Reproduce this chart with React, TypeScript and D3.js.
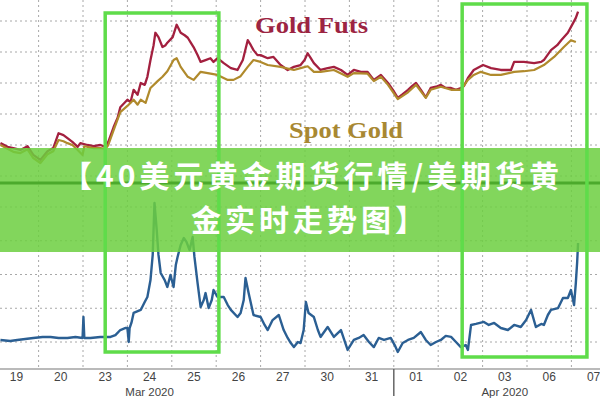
import React from "react";
import * as d3 from "d3";

// ---- data ----
const dayLabels = ["19", "20", "23", "24", "25", "26", "27", "30", "31", "01", "02", "03", "06", "07"];
const monthLabels: [string, number][] = [["Mar 2020", 3], ["Apr 2020", 11]];
const monthBreakDay = 8.5;

// [trading-day index, price]
const goldFuts: [number, number][] = [
  [-0.36, 1553], [-0.2, 1547], [-0.07, 1545], [0.09, 1542], [0.25, 1548], [0.38, 1534], [0.54, 1526], [0.7, 1540],
  [0.83, 1545], [0.95, 1569], [1.06, 1566], [1.15, 1561], [1.26, 1555], [1.38, 1547], [1.44, 1553], [1.6, 1550],
  [1.74, 1548], [1.89, 1550], [2.01, 1547], [2.07, 1555], [2.19, 1579], [2.28, 1594], [2.34, 1611], [2.5, 1623],
  [2.57, 1619], [2.64, 1639], [2.73, 1631], [2.8, 1650], [2.89, 1647], [2.95, 1660], [3.02, 1687], [3.09, 1711],
  [3.13, 1731], [3.2, 1724], [3.29, 1708], [3.36, 1711], [3.4, 1715], [3.52, 1724], [3.61, 1744], [3.7, 1731],
  [3.79, 1727], [3.86, 1723], [3.92, 1716], [3.99, 1708], [4.08, 1695], [4.15, 1684], [4.26, 1687], [4.37, 1690],
  [4.44, 1684], [4.53, 1690], [4.67, 1682], [4.83, 1674], [4.98, 1671], [5.1, 1687], [5.21, 1719], [5.28, 1711],
  [5.34, 1703], [5.43, 1695], [5.5, 1695], [5.66, 1690], [5.79, 1692], [5.95, 1679], [6.11, 1671], [6.25, 1676],
  [6.4, 1679], [6.49, 1687], [6.56, 1698], [6.63, 1690], [6.7, 1682], [6.85, 1671], [7.01, 1674], [7.15, 1676],
  [7.31, 1671], [7.46, 1663], [7.6, 1671], [7.76, 1668], [7.91, 1668], [8.05, 1655], [8.21, 1663], [8.37, 1650],
  [8.48, 1639], [8.59, 1626], [8.7, 1632], [8.82, 1639], [8.91, 1645], [9.0, 1650], [9.11, 1639], [9.22, 1627],
  [9.33, 1642], [9.45, 1644], [9.56, 1647], [9.67, 1642], [9.79, 1642], [9.9, 1639], [10.01, 1642], [10.08, 1645],
  [10.17, 1658], [10.3, 1671], [10.51, 1679], [10.69, 1674], [10.91, 1671], [11.14, 1671], [11.21, 1684], [11.43, 1684],
  [11.66, 1682], [11.82, 1684], [11.88, 1687], [12.04, 1703], [12.18, 1711], [12.27, 1719], [12.42, 1731], [12.54, 1747],
  [12.6, 1755], [12.65, 1765],
];

const spotGold: [number, number][] = [
  [-0.36, 1550], [-0.2, 1544], [-0.07, 1539], [0.09, 1537], [0.25, 1543], [0.38, 1529], [0.54, 1521], [0.7, 1535],
  [0.83, 1540], [0.95, 1558], [1.06, 1556], [1.15, 1553], [1.26, 1550], [1.38, 1542], [1.49, 1534], [1.53, 1548],
  [1.74, 1545], [1.89, 1545], [2.01, 1544], [2.07, 1550], [2.19, 1574], [2.34, 1603], [2.5, 1613], [2.64, 1623],
  [2.73, 1615], [2.8, 1623], [2.91, 1618], [3.02, 1642], [3.18, 1653], [3.29, 1660], [3.4, 1669], [3.54, 1687],
  [3.61, 1690], [3.7, 1676], [3.86, 1660], [3.99, 1655], [4.15, 1668], [4.31, 1666], [4.53, 1663], [4.76, 1655],
  [4.89, 1655], [5.05, 1661], [5.21, 1676], [5.34, 1687], [5.5, 1684], [5.66, 1679], [5.95, 1676], [6.25, 1671],
  [6.4, 1674], [6.56, 1677], [6.7, 1668], [6.85, 1668], [7.15, 1671], [7.46, 1660], [7.6, 1666], [7.91, 1665],
  [8.05, 1653], [8.21, 1660], [8.37, 1647], [8.59, 1624], [8.82, 1635], [9.0, 1647], [9.22, 1626], [9.33, 1639],
  [9.56, 1644], [9.79, 1639], [10.01, 1639], [10.17, 1655], [10.3, 1663], [10.46, 1668], [10.69, 1663], [10.91, 1663],
  [11.21, 1668], [11.43, 1669], [11.66, 1671], [11.88, 1679], [12.11, 1692], [12.33, 1708], [12.49, 1719], [12.6, 1716],
];

// [trading-day index, futures - spot spread]
const spread: [number, number][] = [
  [-0.36, 1.2], [-0.14, 0.6], [0.02, 1.2], [0.2, 1.8], [0.38, 2.4], [0.59, 3.0], [0.77, 3.0], [0.95, 2.4],
  [1.15, 2.4], [1.33, 3.0], [1.49, 2.4], [1.51, 14.8], [1.53, 2.4], [1.67, 2.4], [1.89, 3.0], [2.12, 3.0],
  [2.23, 4.1], [2.34, 7.1], [2.46, 8.3], [2.5, 8.3], [2.53, 0.0], [2.55, 8.3], [2.59, 11.3], [2.64, 17.2],
  [2.8, 19.0], [2.89, 23.7], [2.95, 26.7], [3.02, 36.7], [3.07, 51.6], [3.11, 82.4], [3.16, 66.4], [3.2, 51.6],
  [3.25, 40.9], [3.34, 36.7], [3.4, 32.6], [3.47, 39.7], [3.54, 32.6], [3.59, 45.6], [3.63, 50.4], [3.7, 57.5],
  [3.77, 61.6], [3.83, 59.3], [3.9, 54.5], [3.97, 62.2], [4.01, 50.4], [4.08, 35.0], [4.15, 20.7], [4.22, 24.9],
  [4.26, 29.0], [4.33, 20.1], [4.4, 24.9], [4.44, 30.8], [4.53, 26.7], [4.67, 26.7], [4.76, 21.9], [4.83, 19.0],
  [4.98, 14.8], [5.05, 17.2], [5.12, 24.9], [5.16, 37.9], [5.23, 29.0], [5.34, 16.0], [5.5, 14.8], [5.59, 10.1],
  [5.66, 7.1], [5.77, 13.0], [5.91, 16.0], [6.02, 7.1], [6.11, 2.4], [6.18, -0.6], [6.25, -3.0], [6.34, 0.0],
  [6.4, -0.6], [6.47, 7.1], [6.52, 23.7], [6.58, 17.2], [6.7, 14.8], [6.79, 7.1], [6.85, 3.0], [7.01, 8.9],
  [7.15, 3.0], [7.31, 7.1], [7.46, -4.7], [7.6, 1.2], [7.71, 2.4], [7.82, 4.1], [7.94, 0.0], [8.05, -3.0],
  [8.16, 2.4], [8.28, 1.2], [8.43, 2.4], [8.52, -1.8], [8.59, -5.9], [8.7, -0.6], [8.82, 1.2], [8.95, 2.4],
  [9.11, 5.9], [9.22, 1.2], [9.33, -1.8], [9.45, 0.0], [9.56, 1.2], [9.67, 3.6], [9.79, 3.0], [9.9, 0.0],
  [10.01, -3.0], [10.12, -1.8], [10.17, -4.7], [10.24, 10.1], [10.35, 10.7], [10.53, 11.9], [10.64, 10.1], [10.76, 11.3],
  [10.91, 8.3], [11.07, 7.1], [11.21, 10.1], [11.36, 8.9], [11.48, 13.0], [11.59, 19.0], [11.7, 8.9], [11.82, 10.7],
  [11.88, 10.1], [11.97, 16.0], [12.04, 19.0], [12.2, 20.1], [12.31, 26.1], [12.42, 26.1], [12.49, 30.8], [12.56, 21.9],
  [12.6, 35.0], [12.63, 47.4], [12.65, 58.7],
];

const highlightWindows: [number, number][] = [[2.0, 4.56], [10.04, 12.85]];
const topGridValues = [1500, 1550, 1600, 1650, 1700, 1750];
const bottomGridValues = [0, 20, 40, 60, 80];
const titleLines = ["【40美元黄金期货行情/美期货黄", "金实时走势图】"];

export default function App() {
  const W = 600, H = 400;
  const x = d3.scaleLinear().domain([0, 13]).range([16.4, 593.6]);
  const yTop = d3.scaleLinear().domain([1500, 1750]).range([176, 21]);
  const yBot = d3.scaleLinear().domain([0, 80]).range([342, 207]);
  const axisY = 369;

  const topLine = d3.line<[number, number]>().x(d => x(d[0])).y(d => yTop(d[1]));
  const botLine = d3.line<[number, number]>().x(d => x(d[0])).y(d => yBot(d[1]));

  const vGrid = d3.range(-0.5, 13.6, 1);
  const boxY: [number, number][] = [[13, 352], [4, 357]];

  return (
    <svg width={W} height={H} style={{ position: "fixed", left: 0, top: 0, background: "#fff" }}>
      <rect x={0} y={0} width={W} height={H} fill="#fff" />
      {/* grid */}
      {vGrid.map((t, i) => (
        <line key={"v" + i} x1={x(t)} x2={x(t)} y1={0} y2={axisY} stroke="#a8a8a8" strokeWidth={1} strokeDasharray="2 3" />
      ))}
      {topGridValues.map((v, i) => (
        <line key={"ht" + i} x1={0} x2={W} y1={yTop(v)} y2={yTop(v)} stroke="#a8a8a8" strokeWidth={1} strokeDasharray="2 3" />
      ))}
      {bottomGridValues.map((v, i) => (
        <line key={"hb" + i} x1={0} x2={W} y1={yBot(v)} y2={yBot(v)} stroke="#a8a8a8" strokeWidth={1} strokeDasharray="2 3" />
      ))}
      {/* axis */}
      <line x1={0} x2={W} y1={axisY} y2={axisY} stroke="#777" strokeWidth={1.2} />
      <line x1={x(monthBreakDay)} x2={x(monthBreakDay)} y1={axisY} y2={396} stroke="#666" strokeWidth={1.5} />
      {dayLabels.map((d, i) => (
        <text key={"d" + i} x={x(i)} y={381} textAnchor="middle" fontFamily="Liberation Sans, Arial, sans-serif" fontSize={12} fill="#444">{d}</text>
      ))}
      {monthLabels.map(([m, t], i) => (
        <text key={"m" + i} x={x(t)} y={396} textAnchor="middle" fontFamily="Liberation Sans, Arial, sans-serif" fontSize={11.5} fill="#444">{m}</text>
      ))}
      {/* series */}
      <path d={botLine(spread) || ""} fill="none" stroke="#2b5f93" strokeWidth={2.4} strokeLinejoin="round" />
      <path d={topLine(goldFuts) || ""} fill="none" stroke="#a3203f" strokeWidth={2.3} strokeLinejoin="round" />
      <path d={topLine(spotGold) || ""} fill="none" stroke="#b08a2c" strokeWidth={2.2} strokeLinejoin="round" />
      {/* labels */}
      <text x={255} y={33} fontFamily="Liberation Serif, Times New Roman, serif" fontWeight="bold" fontSize={24} fill="#9c2442" textLength={113} lengthAdjust="spacingAndGlyphs">Gold Futs</text>
      <text x={289} y={138} fontFamily="Liberation Serif, Times New Roman, serif" fontWeight="bold" fontSize={24} fill="#a88832" textLength={114} lengthAdjust="spacingAndGlyphs">Spot Gold</text>
      {/* banner */}
      <rect x={0} y={148} width={W} height={104} fill="rgb(108,207,63)" opacity={0.85} />
      <line x1={0} x2={W} y1={183} y2={183} stroke="#4caa2c" strokeWidth={3} />
      {/* highlight boxes */}
      {highlightWindows.map(([a, b], i) => (
        <rect key={"hl" + i} x={x(a)} y={boxY[i][0]} width={x(b) - x(a)} height={boxY[i][1] - boxY[i][0]} fill="none" stroke="#5fdc4a" strokeWidth={3.5} />
      ))}
      {/* title */}
      <text x={62} y={187} fontFamily="Noto Sans CJK SC" fontWeight="bold" fontSize={30} fill="#fff" letterSpacing={4}>{titleLines[0]}</text>
      <text x={191} y={231} fontFamily="Noto Sans CJK SC" fontWeight="bold" fontSize={30} fill="#fff" letterSpacing={4}>{titleLines[1]}</text>
    </svg>
  );
}
